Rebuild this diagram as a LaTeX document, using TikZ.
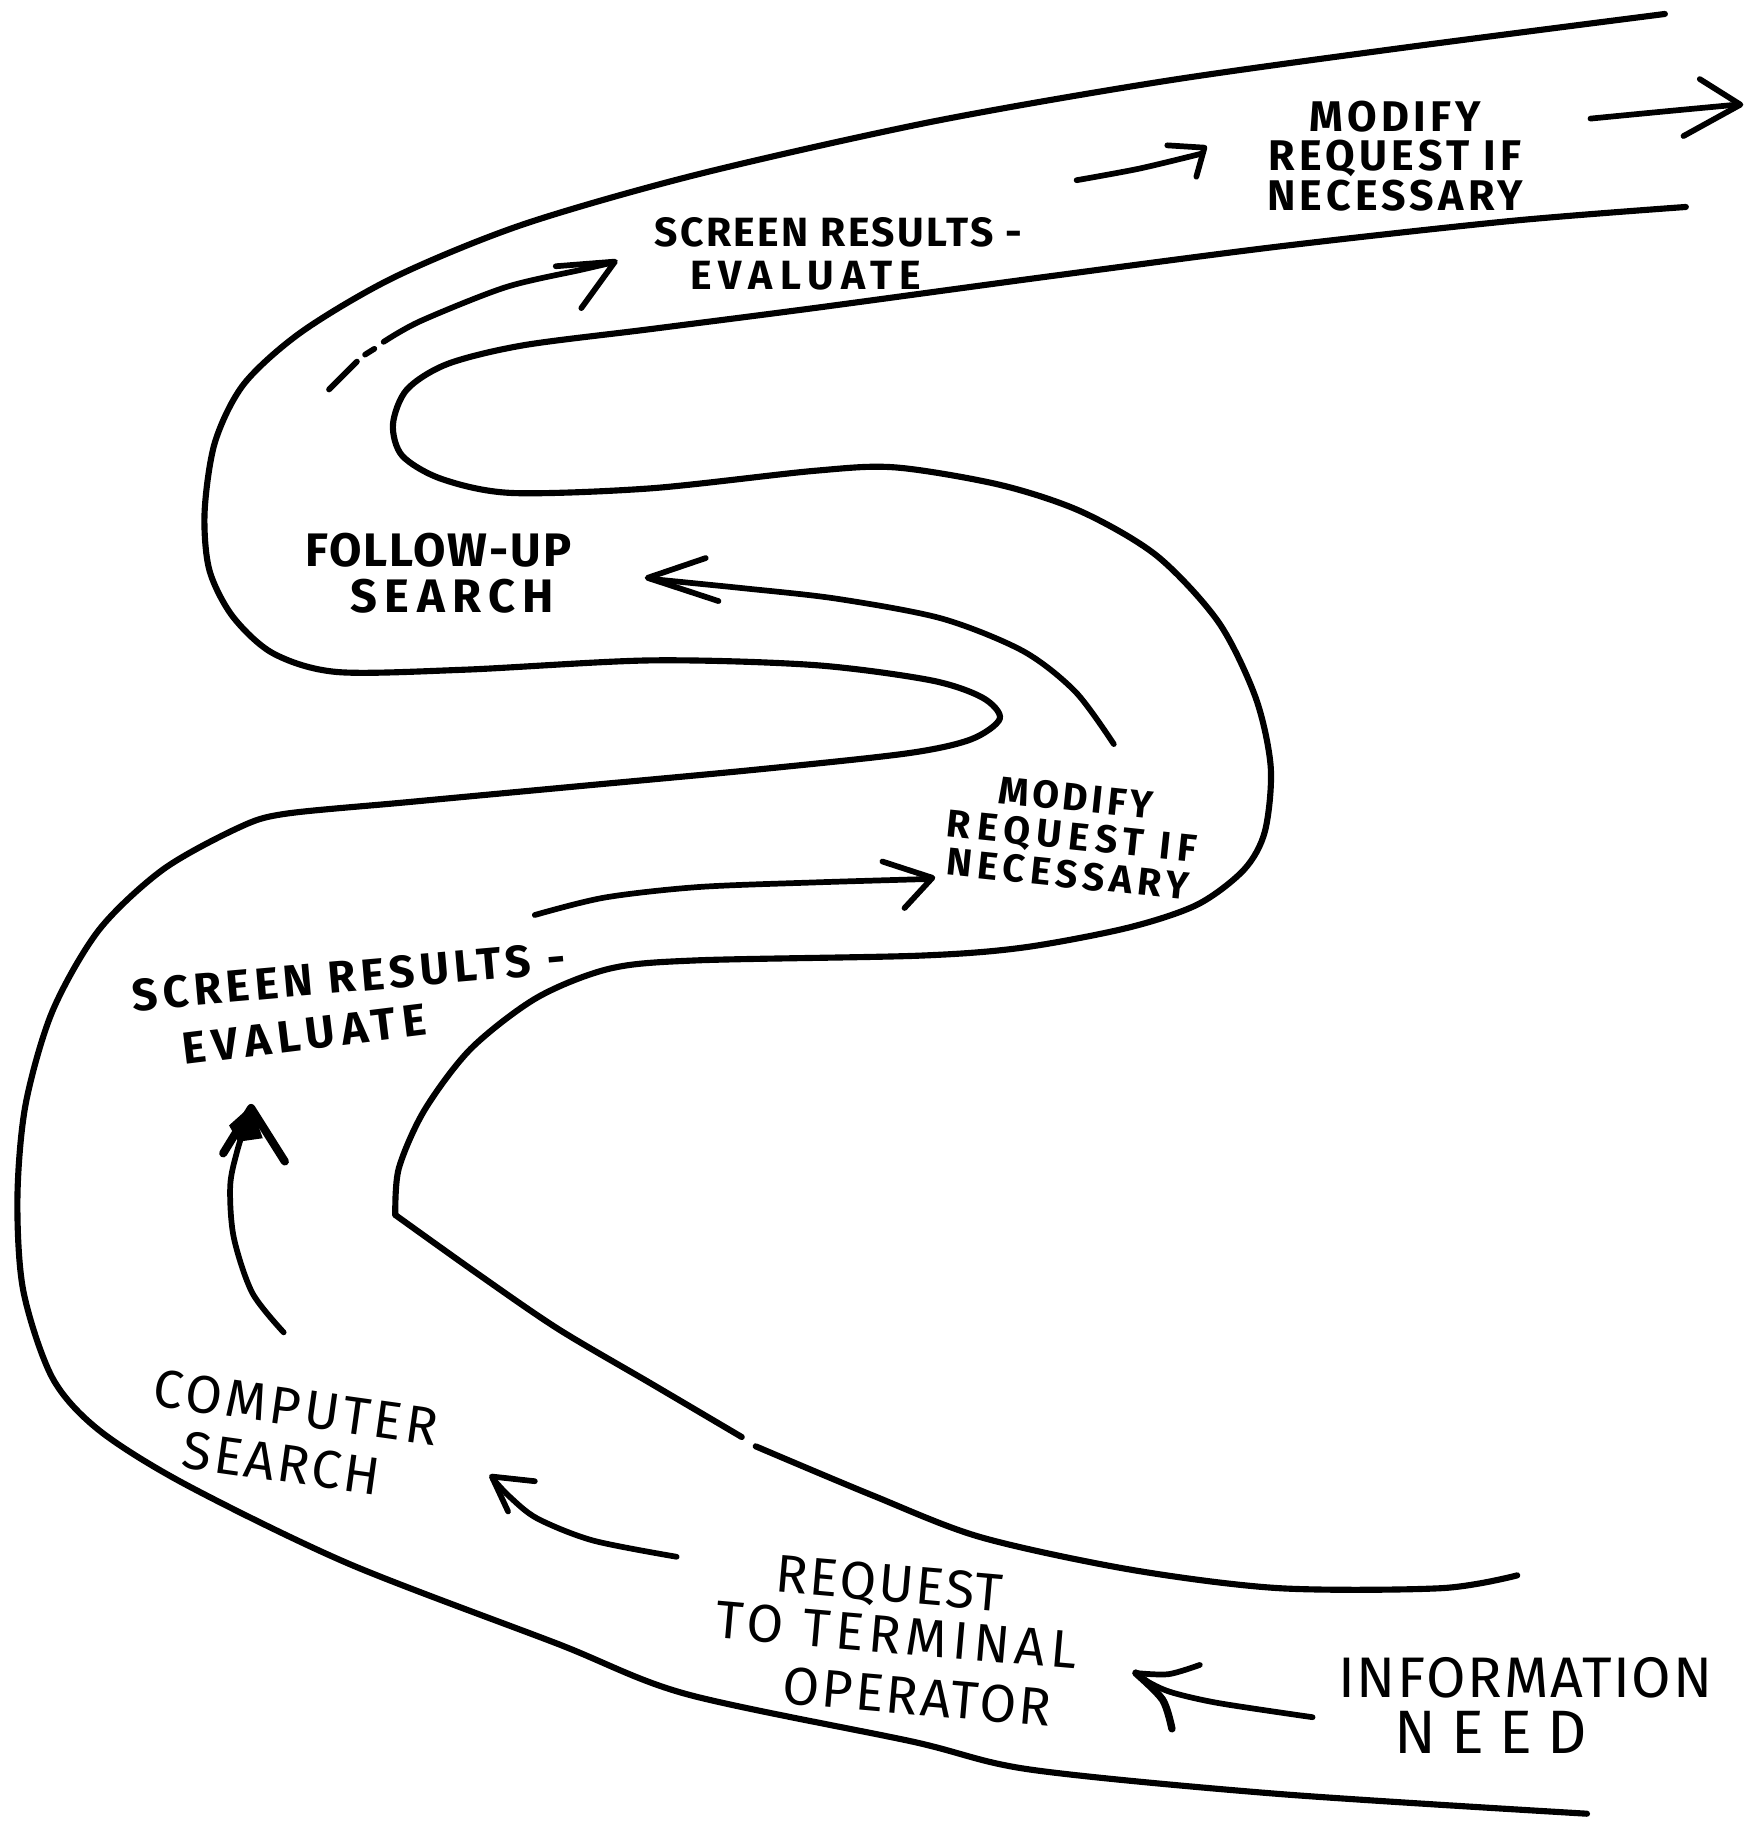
\documentclass[tikz,border=0pt]{standalone}
\usepackage{fontspec}
\setmainfont{Fira Sans}
\newcommand{\ls}[1]{\addfontfeatures{LetterSpace=#1}}
\begin{document}
\begin{tikzpicture}[x=0.1mm,y=-0.1mm,
  bank/.style={line width=1.5pt, line cap=round, line join=round},
  pointer/.style={line width=1.4pt, line cap=round, line join=round},
  lbl/.style={align=center, inner sep=0pt},
]
\useasboundingbox (0,0) rectangle (1504,1568);
\fill[white] (0,0) rectangle (1504,1568);

% outer bank of the road: top edge, upper-left bend, tongue, lower-left bend, bottom edge
\draw[bank] plot[smooth, tension=0.5] coordinates {
  (1432,12) (1200,42) (1000,70) (800,105) (600,150) (450,193) (340,238)
  (260,285) (210,330) (185,380) (176,440) (180,490) (200,530) (235,562)
  (290,578) (400,576) (560,568) (700,572) (800,585) (845,600) (860,618)
  (835,636) (780,648) (650,662) (500,676) (350,690) (245,700) (205,712)
  (140,748) (85,800) (45,870) (22,950) (15,1030) (20,1110) (45,1185)
  (85,1230) (160,1277) (300,1345) (480,1414) (590,1457) (785,1498)
  (886,1522) (1100,1543) (1365,1560)};

% inner bank of the road: upper hairpin, right bend, lower-left corner
\draw[bank] plot[smooth, tension=0.5] coordinates {
  (1450,178) (1300,190) (1100,212) (900,238) (700,265) (560,283) (450,297)
  (385,313) (350,335) (338,365) (346,392) (380,412) (440,424) (560,420)
  (700,405) (770,402) (860,417) (930,440) (995,478) (1048,535) (1080,600)
  (1093,660) (1088,715) (1070,748) (1030,778) (970,798) (880,815)
  (790,822) (600,826) (525,833) (462,858) (405,902) (365,955) (343,1005)
  (340,1045)};
\draw[bank] plot[smooth, tension=0.5] coordinates {
  (340,1045) (410,1095) (480,1143) (560,1190) (638,1236)};
\draw[bank] plot[smooth, tension=0.5] coordinates {
  (650,1244) (750,1286) (843,1322) (972,1350) (1100,1366) (1240,1366) (1305,1355)};

% labels along the road
\node[lbl, font=\bfseries\fontsize{10.5}{9.7}\selectfont\ls{10}] (modA) at (1200,134)
  {MODIFY\\REQUEST IF\\NECESSARY};
\node[lbl, font=\bfseries\fontsize{10}{10}\selectfont\ls{6}] (scrA1) at (721,200) {SCREEN RESULTS -};
\node[lbl, font=\bfseries\fontsize{10}{10}\selectfont\ls{18}] (scrA2) at (693,237) {EVALUATE};
\node[lbl, font=\bfseries\fontsize{11.5}{11}\selectfont\ls{4}] (follow1) at (377,473) {FOLLOW-UP};
\node[lbl, font=\bfseries\fontsize{11.5}{11}\selectfont\ls{16}] (follow2) at (389,513) {SEARCH};
\node[lbl, rotate=-6, font=\bfseries\fontsize{9.5}{9.4}\selectfont] (modB) at (922,719)
  {{\ls{10}MODIFY}\\{\ls{17}REQUEST IF}\\{\ls{14}NECESSARY}};
\node[lbl, rotate=5, font=\bfseries\fontsize{11}{11}\selectfont\ls{11}] (scrB1) at (300,840) {SCREEN RESULTS -};
\node[lbl, rotate=7, font=\bfseries\fontsize{11}{11}\selectfont\ls{15}] (scrB2) at (262,890) {EVALUATE};
\node[lbl, rotate=-8, font=\fontsize{13}{14}\selectfont] (comp) at (251,1235)
  {{\ls{7}COMPUTER}\\\hspace*{-3pt}{\ls{5}SEARCH}};
\node[lbl, rotate=-5, font=\fontsize{13}{12.5}\selectfont] (req) at (771,1410)
  {\hspace*{-5.7pt}{\ls{4}REQUEST}\\{\ls{10}TO TERMINAL}\\[2pt]\hspace*{12.5pt}{\ls{5}OPERATOR}};
\node[lbl, font=\fontsize{14}{14}\selectfont\ls{3}] (info1) at (1312,1443) {INFORMATION};
\node[lbl, font=\fontsize{15}{15}\selectfont\ls{25}] (info2) at (1282,1490) {NEED};

% arrows: flow along the road, drawn with open hand-made heads
% into the road at the top right
\draw[pointer] plot[smooth] coordinates {(1368,102) (1430,96) (1494,90)};
\draw[pointer] (1462,68) -- (1497,90) -- (1448,117);
% toward the second modify step
\draw[pointer] plot[smooth] coordinates {(926,155) (980,145) (1034,132)};
\draw[pointer] (1004,125) -- (1036,127) -- (1029,152);
% around the upper-left bend
\draw[pointer] (283,335) -- (307,311);
\draw[pointer] (314,305) -- (322,300);
\draw[pointer] plot[smooth] coordinates {(330,294) (362,276) (435,247) (500,232) (526,226)};
\draw[pointer] (478,229) -- (529,225) -- (500,265);
% around the right bend toward follow-up search
\draw[pointer] plot[smooth] coordinates {(958,640) (925,595) (880,560) (810,532) (720,515) (640,506) (560,498)};
\draw[pointer] (607,480) -- (557,497) -- (618,517);
% toward the first modify step
\draw[pointer] plot[smooth] coordinates {(460,787) (520,772) (600,763) (700,759) (800,756)};
\draw[pointer] (759,741) -- (802,755) -- (778,781);
% up from computer search
\draw[pointer] plot[smooth] coordinates {(244,1146) (217,1112) (201,1064) (198,1020) (204,990) (214,958)};
\draw[pointer, line width=2pt] (192,992) -- (216,953) -- (245,999);
\fill (216,951) -- (197,968) -- (205,982) -- (226,979) -- cycle;
% from the request to the computer search
\draw[pointer] plot[smooth] coordinates {(582,1339) (510,1325) (462,1306) (438,1287) (424,1272)};
\draw[pointer] (460,1274) -- (423,1270) -- (437,1300);
% from the information need
\draw[pointer] plot[smooth] coordinates {(1129,1477) (1049,1465) (1009,1456) (990,1448) (977,1439)};
\draw[pointer] plot[smooth] coordinates {(1032,1432) (1005,1440) (977,1439)};
\draw[pointer, line width=1.8pt] plot[smooth] coordinates {(977,1439) (1000,1462) (1008,1487)};
\end{tikzpicture}
\end{document}
